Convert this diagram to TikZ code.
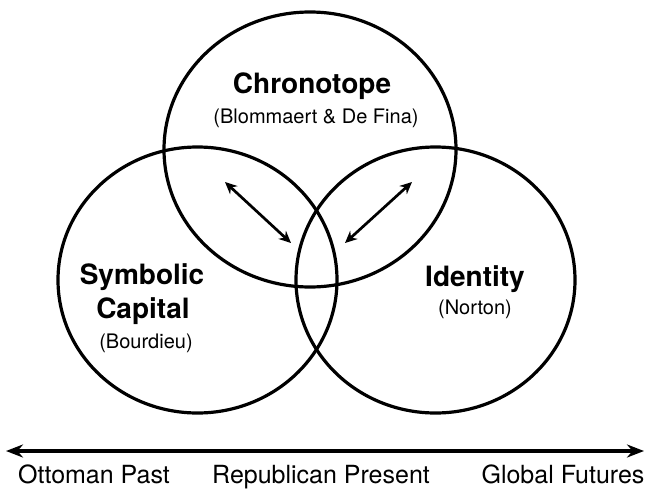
\documentclass[tikz,border=0pt]{standalone}
\usepackage{fontspec}
\setmainfont{TeX Gyre Heros}
\usetikzlibrary{shapes.geometric, arrows.meta}
\begin{document}
\begin{tikzpicture}[x=1pt, y=-1pt, line width=3.2pt,
    main/.style = {draw, ellipse, inner sep=0pt, minimum width=279pt, minimum height=266pt},
    title/.style = {anchor=base, font=\bfseries\fontsize{28}{32}\selectfont},
    cite/.style = {anchor=base, font=\fontsize{20}{24}\selectfont},
    era/.style = {anchor=base, font=\fontsize{25}{29}\selectfont},
    link/.style = {line width=2.7pt, {Stealth[length=12pt,width=11pt]}-{Stealth[length=12pt,width=11pt]}}]
        \useasboundingbox (0,0) rectangle (645,490);
        \node[main, minimum width=292pt, minimum height=275pt] (1) at (310,149.5) {};
        \node[main] (2) at (197.5,280) {};
        \node[main] (3) at (435.5,280) {};
        % circle labels
        \node[title] (1a) at (312,93) {Chronotope};
        \node[cite] (1b) at (316,123) {(Blommaert \& De Fina)};
        \node[title] (2a) at (142,284) {Symbolic};
        \node[title] (2b) at (143,318) {Capital};
        \node[cite] (2c) at (146,348) {(Bourdieu)};
        \node[title] (3a) at (475,286) {Identity};
        \node[cite] (3b) at (475,314) {(Norton)};
        % links
        \coordinate (l1) at (225,182);
        \coordinate (l2) at (291,243);
        \coordinate (r1) at (412,182);
        \coordinate (r2) at (345,243);
        \draw[link] (l1) -- (l2);
        \draw[link] (r1) -- (r2);
        % timeline
        \coordinate (past) at (6,451);
        \coordinate (future) at (644,451);
        \draw[line width=3.5pt, {Stealth[length=17pt,width=13pt]}-{Stealth[length=17pt,width=13pt]}] (past) -- (future);
        \node[era] (e1) at (94,483) {Ottoman Past};
        \node[era] (e2) at (321,483) {Republican Present};
        \node[era] (e3) at (563,483) {Global Futures};
    \end{tikzpicture}
\end{document}
